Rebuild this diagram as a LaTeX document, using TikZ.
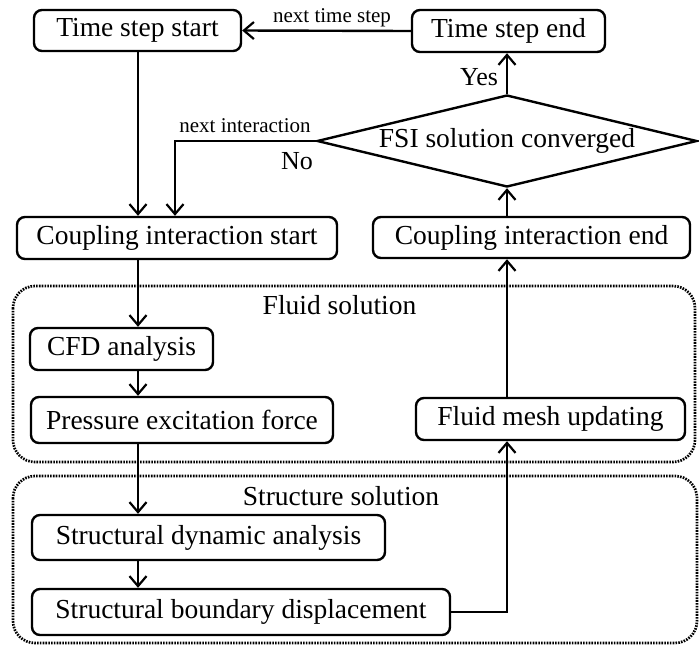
\documentclass[tikz,border=0pt]{standalone}
\usepackage{fontspec}
\setmainfont{Liberation Serif}
\usetikzlibrary{arrows.meta,shapes.geometric}
\begin{document}
\begin{tikzpicture}[x=1pt,y=-1pt,
  box/.style={draw, line width=2.4pt, rounded corners=8pt, inner sep=0pt, font=\fontsize{27.5}{30}\selectfont},
  grp/.style={draw, line width=2.7pt, dash pattern=on 1.6pt off 1.2pt, rounded corners=22pt},
  flow/.style={line width=2.4pt, -{Straight Barb[length=10pt,width=17pt,line width=2.2pt]}},
  lbl/.style={font=\fontsize{21}{24}\selectfont, inner sep=0pt},
  big/.style={font=\fontsize{27.5}{30}\selectfont, inner sep=0pt},
  mid/.style={font=\fontsize{26}{28}\selectfont, inner sep=0pt}]
\useasboundingbox (0,0) rectangle (699,646);
% groups
\draw[grp] (13,286) rectangle (695,462);
\draw[grp] (13,476) rectangle (697,643);
\node[big] (fluidlbl) at (339.5,305) {Fluid solution};
\node[big] (structlbl) at (341,496) {Structure solution};
% boxes
\node[box, minimum width=207pt, minimum height=41pt] (tss) at (137.5,30.5) {Time step start};
\node[box, minimum width=193pt, minimum height=42pt] (tse) at (508.5,31) {Time step end};
\node[draw, diamond, line width=2.4pt, aspect=4, inner sep=0pt, minimum width=380pt, minimum height=92pt, big] (dia) at (507,141) {FSI solution converged};
\node[box, minimum width=320pt, minimum height=42pt] (cis) at (177,238) {Coupling interaction start};
\node[box, minimum width=317pt, minimum height=41pt] (cie) at (531.5,237.5) {Coupling interaction end};
\node[box, minimum width=183pt, minimum height=42pt] (cfd) at (121.5,349) {CFD analysis};
\node[box, minimum width=302pt, minimum height=46pt] (pef) at (182,420) {Pressure excitation force};
\node[box, minimum width=269pt, minimum height=42pt] (fmu) at (550.5,419) {Fluid mesh updating};
\node[box, minimum width=353pt, minimum height=45pt] (sda) at (208.5,537.5) {Structural dynamic analysis};
\node[box, minimum width=418pt, minimum height=46pt] (sbd) at (241,612) {Structural boundary displacement};
% labels
\node[lbl] (ntslbl) at (332,18) {next time step};
\node[lbl] (nilbl) at (245,126) {next interaction};
\node[mid] (yes) at (479,77) {Yes};
\node[mid] (no) at (297,161) {No};
% connectors
\coordinate (colx) at (138,0);
\coordinate (ni) at (175,141);
\draw[flow] (tse.west) -- (tss.east);
\draw[flow] (colx |- tss.south) -- (colx |- cis.north);
\draw[flow] (dia.west) -- (ni) -- (ni |- cis.north);
\draw[flow] (dia.north) -- (dia.north |- tse.south);
\draw[flow] (colx |- cis.south) -- (colx |- cfd.north);
\draw[flow] (colx |- cfd.south) -- (colx |- pef.north);
\draw[flow] (colx |- pef.south) -- (colx |- sda.north);
\draw[flow] (colx |- sda.south) -- (colx |- sbd.north);
\draw[flow] (sbd.east) -| (dia.south |- fmu.south);
\draw[flow] (dia.south |- fmu.north) -- (dia.south |- cie.south);
\draw[flow] (dia.south |- cie.north) -- (dia.south);
\end{tikzpicture}
\end{document}
